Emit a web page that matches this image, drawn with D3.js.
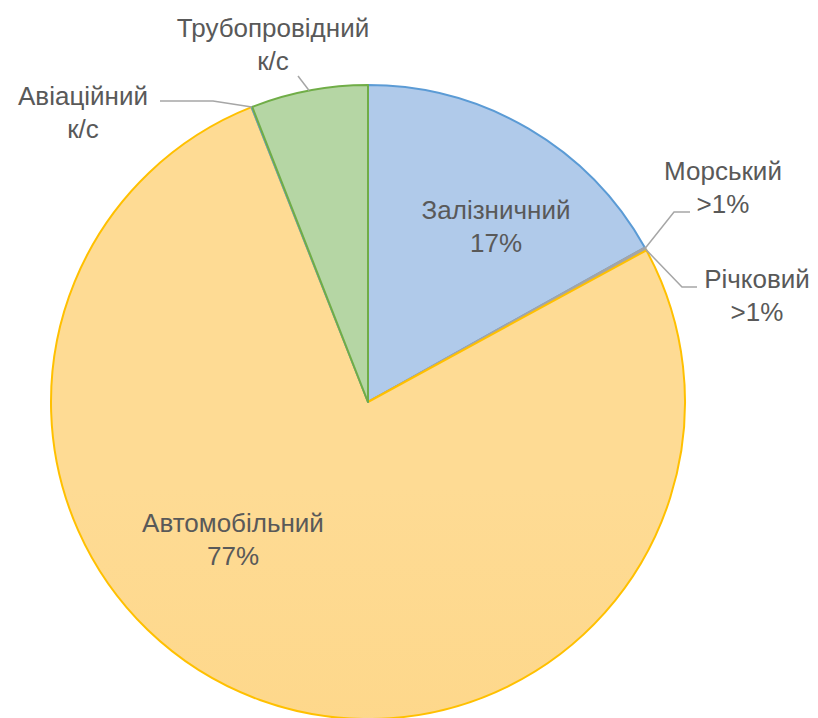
<!DOCTYPE html>
<html>
<head>
<meta charset="utf-8">
<script src="https://cdn.jsdelivr.net/npm/d3@7"></script>
<style>
  html, body { margin: 0; padding: 0; background: #fff; }
</style>
</head>
<body>
<div id="chart"></div>
<script>
// slices clockwise from 12 o'clock
var categories = ["Залізничний", "Морський", "Річковий", "Автомобільний", "Авіаційний", "Трубопровідний"];
var shares = [16.9, 0.08, 0.08, 76.95, 0.04, 5.95];
var labelLines = [["Залізничний", "17%"], ["Морський", ">1%"], ["Річковий", ">1%"], ["Автомобільний", "77%"], ["Авіаційний", "к/с"], ["Трубопровідний", "к/с"]];

var width = 818, height = 718;
var cx = 368, cy = 402, r = 317;

var fillTop = ["#b0caea", "#a5a5a5", "#a5a5a5", "#fedb94", "#b0caea", "#b5d6a4"];
var fillBot = ["#93b6e3", "#a5a5a5", "#a5a5a5", "#fdd27c", "#93b6e3", "#a6ce92"];
var strokes = ["#5b9bd5", "#a5a5a5", "#a5a5a5", "#ffc000", "#5b9bd5", "#70ad47"];

var svg = d3.select("#chart").append("svg")
  .attr("width", width)
  .attr("height", height);

var defs = svg.append("defs");
categories.forEach(function(c, i) {
  var g = defs.append("linearGradient")
    .attr("id", "grad-" + i)
    .attr("gradientUnits", "userSpaceOnUse")
    .attr("x1", 0).attr("y1", cy - r)
    .attr("x2", 0).attr("y2", cy + r);
  g.append("stop").attr("offset", "0%").attr("stop-color", fillTop[i]);
  g.append("stop").attr("offset", "100%").attr("stop-color", fillBot[i]);
});

var pie = d3.pie().sort(null).value(function(d) { return d; });
var arcs = pie(shares);
var arc = d3.arc().innerRadius(0).outerRadius(r);

var g = svg.append("g").attr("transform", "translate(" + cx + "," + cy + ")");

g.selectAll("path")
  .data(arcs)
  .enter().append("path")
  .attr("d", arc)
  .attr("fill", function(d, i) { return "url(#grad-" + i + ")"; })
  .attr("stroke", function(d, i) { return strokes[i]; })
  .attr("stroke-width", 2)
  .attr("stroke-linejoin", "round");

function rimPoint(d) {
  var a = (d.startAngle + d.endAngle) / 2;
  return [cx + r * Math.sin(a), cy - r * Math.cos(a)];
}

// label placement (text centre x, first line baseline y), leader elbow if any
var labelPos = [
  { x: 496, y: 219 },
  { x: 723, y: 180, elbow: [674, 212], end: [690, 212] },
  { x: 757, y: 288, elbow: [682, 287], end: [697, 287] },
  { x: 233, y: 532 },
  { x: 83, y: 105, elbow: [213, 101], end: [160, 101] },
  { x: 273, y: 37, elbow: [298, 76], end: [298, 76] }
];

var leaders = svg.append("g");
arcs.forEach(function(d, i) {
  var p = labelPos[i];
  if (!p.elbow) return;
  var s = rimPoint(d);
  leaders.append("polyline")
    .attr("points", [s, p.elbow, p.end].map(function(q) { return q.join(","); }).join(" "))
    .attr("fill", "none")
    .attr("stroke", "#a6a6a6")
    .attr("stroke-width", 1.5);
});

var labels = svg.append("g")
  .attr("font-family", "'Liberation Sans', Arial, sans-serif")
  .attr("font-size", 26)
  .attr("fill", "#595959")
  .attr("text-anchor", "middle");
arcs.forEach(function(d, i) {
  var p = labelPos[i];
  var t = labels.append("text").attr("x", p.x).attr("y", p.y);
  labelLines[i].forEach(function(line, k) {
    t.append("tspan").attr("x", p.x).attr("dy", k === 0 ? 0 : 33).text(line);
  });
});
</script>
</body>
</html>
